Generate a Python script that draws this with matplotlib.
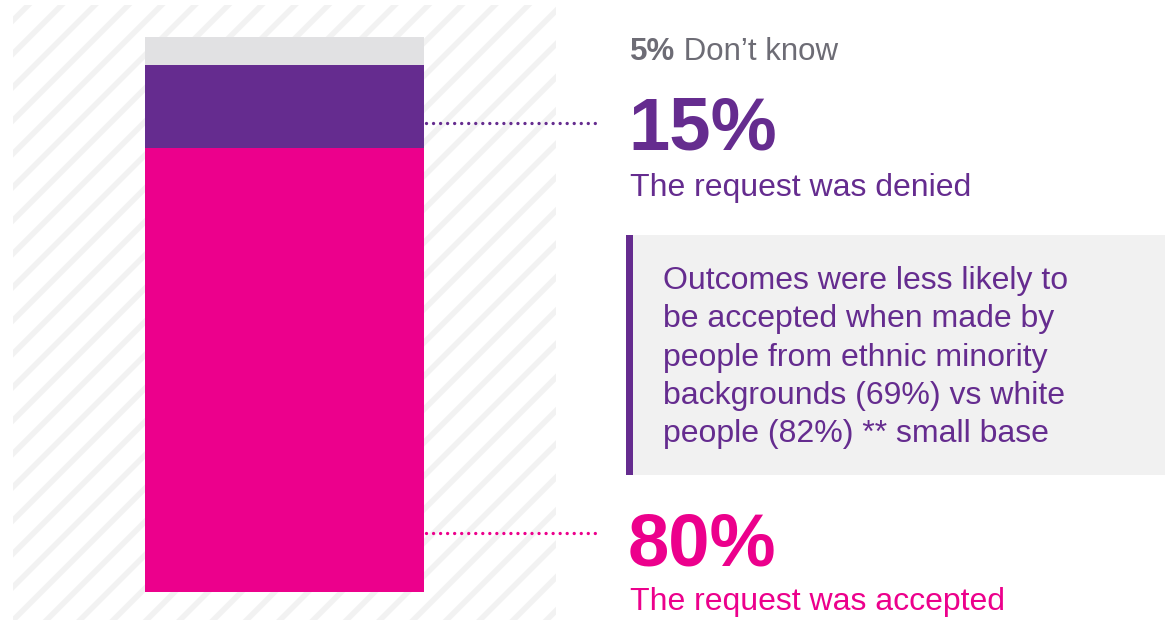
import matplotlib.pyplot as plt
from matplotlib.patches import Rectangle

plt.rcParams['font.family'] = ['Liberation Sans', 'DejaVu Sans']
plt.rcParams['hatch.linewidth'] = 4.0

# stacked shares, bottom to top
segments = ['The request was accepted', 'The request was denied', 'Don’t know']
shares = [80, 15, 5]
seg_colors = ['#EC008C', '#652C8F', '#E1E1E3']

note_lines = [
    'Outcomes were less likely to',
    'be accepted when made by',
    'people from ethnic minority',
    'backgrounds (69%) vs white',
    'people (82%) ** small base',
]

PURPLE = '#652C8F'
PINK = '#EC008C'
GREY_TXT = '#6D6C75'

W, H = 1173, 620
fig = plt.figure(figsize=(W / 100, H / 100), dpi=100)

# bar panel with striped background
ax = fig.add_axes([13 / W, 0, 543 / W, 615 / H])
ax.set_xlim(0, 1)
ax.set_ylim(-5.045, 105.77)
ax.axis('off')
ax.add_patch(Rectangle((0, 0), 1, 1, transform=ax.transAxes, facecolor='white',
                       edgecolor='#F2F2F2', hatch='/', linewidth=0, zorder=0))
bottom = 0
for name, val, col in zip(segments, shares, seg_colors):
    ax.bar(0.5, val, width=0.514, bottom=bottom, color=col, linewidth=0, zorder=2)
    bottom += val

# overlay in pixel units for the labels
ov = fig.add_axes([0, 0, 1, 1])
ov.set_xlim(0, W)
ov.set_ylim(H, 0)
ov.axis('off')

dots = dict(linewidth=2.4, linestyle=(0, (0.01, 2.1)), dash_capstyle='round')
ov.plot([426, 600], [123, 123], color=PURPLE, **dots)
ov.plot([426, 600], [533, 533], color=PINK, **dots)

t = ov.text(630, 60, f'{shares[2]}%', fontsize=22.5, fontweight='bold', color=GREY_TXT, va='baseline')
ov.annotate(' ' + segments[2], xy=(1, 0), xycoords=t, fontsize=22.5, color=GREY_TXT, va='bottom')

ov.text(628, 150, f'{shares[1]}%', fontsize=53.5, fontweight='bold', color=PURPLE, va='baseline')
ov.text(630, 196, segments[1], fontsize=23, color=PURPLE, va='baseline')

ov.text(628, 565, f'{shares[0]}%', fontsize=53.5, fontweight='bold', color=PINK, va='baseline')
ov.text(630, 610, segments[0], fontsize=23, color=PINK, va='baseline')

# callout box
ov.add_patch(Rectangle((626, 235), 1165 - 626, 240, facecolor='#F1F1F1', linewidth=0))
ov.add_patch(Rectangle((626, 235), 7, 240, facecolor=PURPLE, linewidth=0))
for i, line in enumerate(note_lines):
    ov.text(663, 289 + i * 38.3, line, fontsize=23, color=PURPLE, va='baseline')

fig.savefig('out.png', dpi=100, facecolor='white')
